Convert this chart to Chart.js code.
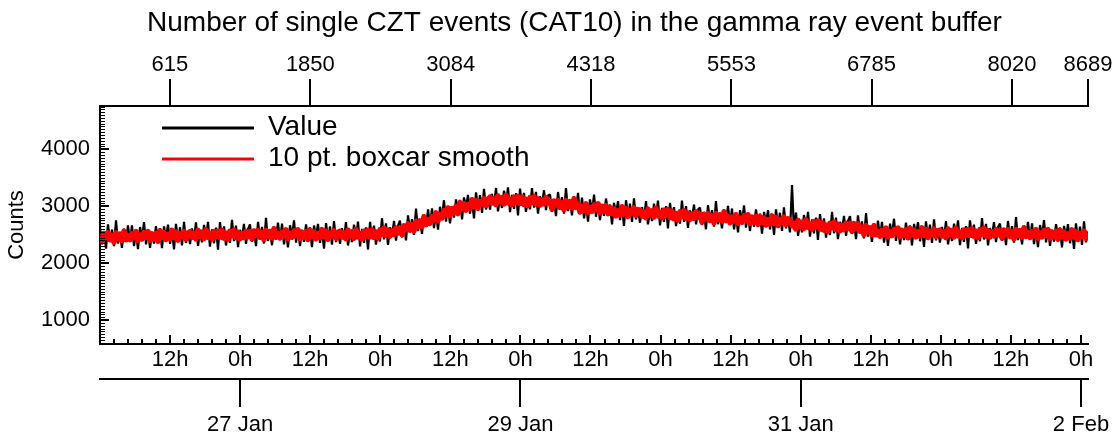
<!DOCTYPE html>
<html>
<head>
<meta charset="utf-8">
<title>CZT single events</title>
<script src="https://cdn.jsdelivr.net/npm/chart.js@4.4.1/dist/chart.umd.min.js"></script>
<style>
  html, body { margin: 0; padding: 0; background: #fff; }
  canvas { display: block; }
</style>
</head>
<body>
<canvas id="myChart" width="1120" height="439"></canvas>
<script>
// top axis: sample number
const lastSample = 8689;
const sampleTicks = [615, 1850, 3084, 4318, 5553, 6785, 8020, 8689];

// bottom axes: hours counted from 26 Jan 0h
const hourMin = 0;
const hourMax = 169.2;
const hourTicks = [12, 24, 36, 48, 60, 72, 84, 96, 108, 120, 132, 144, 156, 168];
const dateTicks = [24, 72, 120, 168];
const dateLabels = ['27 Jan', '29 Jan', '31 Jan', '2 Feb'];

// left axis
const countMin = 580;
const countMax = 4760;
const countTicks = [1000, 2000, 3000, 4000];

const seriesNames = ['Value', '10 pt. boxcar smooth'];

// values (evenly spread over the samples)
const valueCounts = [
  2635,2330,2545,2255,2680,2400,2590,2300,2750,2345,2505,2270,2605,2375,2665,
  2375,2665,2300,2550,2245,2635,2430,2720,2330,2590,2270,2535,2345,2650,2400,
  2615,2265,2645,2455,2675,2340,2570,2240,2690,2400,2630,2310,2725,2355,2545,
  2335,2610,2410,2715,2305,2540,2365,2670,2435,2725,2290,2595,2350,2625,2235,
  2720,2415,2645,2310,2560,2355,2760,2385,2660,2280,2585,2440,2690,2340,2600,
  2680,2375,2590,2300,2725,2445,2635,2345,2795,2390,2550,2315,2650,2420,2710,
  2405,2695,2330,2580,2275,2665,2460,2750,2360,2620,2300,2565,2375,2680,2430,
  2630,2280,2660,2470,2690,2355,2585,2255,2705,2415,2645,2325,2740,2370,2560,
  2340,2615,2415,2720,2310,2545,2370,2675,2440,2730,2295,2600,2355,2630,2240,
  2725,2424,2658,2327,2581,2380,2789,2418,2697,2321,2630,2489,2743,2397,2660,
  2745,2452,2679,2401,2839,2571,2773,2495,2957,2564,2736,2514,2861,2643,2945,
  2660,2964,2614,2878,2587,2991,2801,3105,2729,3004,2698,2977,2801,3121,2885,
  3110,2767,3154,2971,3199,2871,3108,2785,3242,2959,3196,2884,3306,2943,3140,
  2940,3215,3015,3320,2910,3145,2970,3275,3040,3330,2895,3200,2955,3230,2840,
  3310,3005,3235,2900,3150,2945,3320,2975,3250,2870,3175,3030,3280,2930,3190,
  3205,2900,3115,2825,3250,2970,3160,2870,3320,2915,3075,2840,3175,2945,3235,
  2860,3150,2785,3035,2730,3120,2915,3205,2815,3075,2755,3020,2830,3135,2885,
  3030,2680,3060,2870,3090,2755,2985,2655,3105,2815,3045,2725,3140,2770,2960,
  2710,2985,2785,3090,2680,2915,2740,3045,2810,3100,2665,2970,2725,3000,2610,
  3060,2755,2985,2650,2900,2695,3100,2725,3000,2620,2925,2780,3030,2680,2940,
  2975,2670,2885,2595,3020,2740,2930,2640,3090,2685,2845,2610,2945,2715,3005,
  2670,2960,2595,2845,2540,2930,2725,3015,2625,2885,2565,2830,2640,2945,2695,
  2870,2520,2900,2710,2930,2595,2825,2495,2945,2655,2885,2565,2980,2610,2800,
  2540,3370,2585,2890,2480,2715,2540,2845,2610,2900,2465,2770,2525,2800,2410,
  2860,2555,2785,2450,2700,2495,2900,2525,2800,2420,2725,2580,2830,2480,2740,
  2825,2512,2719,2421,2839,2551,2733,2435,2877,2464,2616,2373,2701,2463,2745,
  2435,2725,2360,2610,2305,2695,2490,2780,2390,2650,2330,2595,2405,2710,2460,
  2660,2310,2690,2500,2720,2385,2615,2285,2735,2445,2675,2355,2770,2400,2590,
  2360,2635,2435,2740,2330,2565,2390,2695,2460,2750,2315,2620,2375,2650,2260,
  2750,2445,2675,2340,2590,2385,2790,2415,2690,2310,2615,2470,2720,2370,2630,
  2695,2390,2605,2315,2740,2460,2650,2360,2810,2405,2565,2330,2665,2435,2725,
  2410,2700,2335,2585,2280,2670,2465,2755,2365,2625,2305,2570,2380,2685,2435,
  2625,2275,2655,2465,2685,2350,2580,2250,2700,2410,2640,2320,2735,2365,2555
];

const smoothCounts = [
  2510,2380,2520,2450,2530,2410,2490,2370,2530,2430,2510,2400,2560,2410,2480,
  2415,2515,2445,2555,2405,2495,2425,2535,2455,2555,2405,2515,2425,2525,2385,
  2565,2455,2535,2415,2505,2435,2575,2445,2545,2405,2515,2465,2555,2425,2525,
  2555,2455,2525,2425,2575,2475,2545,2435,2585,2455,2515,2425,2555,2465,2565,
  2460,2570,2440,2530,2420,2560,2480,2580,2450,2540,2430,2520,2450,2560,2470,
  2555,2425,2565,2495,2575,2455,2535,2415,2575,2475,2555,2445,2605,2455,2525,
  2445,2545,2475,2585,2435,2525,2455,2565,2485,2585,2435,2545,2455,2555,2415,
  2580,2470,2550,2430,2520,2450,2590,2460,2560,2420,2530,2480,2570,2440,2540,
  2560,2460,2530,2430,2580,2480,2550,2440,2590,2460,2520,2430,2560,2470,2570,
  2465,2579,2453,2547,2441,2585,2509,2613,2487,2581,2475,2569,2503,2617,2530,
  2620,2502,2654,2596,2689,2581,2673,2565,2737,2649,2741,2644,2816,2678,2760,
  2700,2814,2759,2883,2747,2851,2796,2920,2854,2969,2833,2957,2881,2996,2870,
  3060,2957,3044,2931,3029,2966,3113,2990,3097,2964,3081,3039,3136,3013,3120,
  3160,3060,3130,3030,3180,3080,3150,3040,3190,3060,3120,3030,3160,3070,3170,
  3050,3160,3030,3120,3010,3150,3070,3170,3040,3130,3020,3110,3040,3150,3060,
  3080,2950,3090,3020,3100,2980,3060,2940,3100,3000,3080,2970,3130,2980,3050,
  2900,3000,2930,3040,2890,2980,2910,3020,2940,3040,2890,3000,2910,3010,2870,
  2980,2870,2950,2830,2920,2850,2990,2860,2960,2820,2930,2880,2970,2840,2940,
  2930,2830,2900,2800,2950,2850,2920,2810,2960,2830,2890,2800,2930,2840,2940,
  2800,2910,2780,2870,2760,2900,2820,2920,2790,2880,2770,2860,2790,2900,2810,
  2850,2720,2860,2790,2870,2750,2830,2710,2870,2770,2850,2740,2900,2750,2820,
  2710,2810,2740,2850,2700,2790,2720,2830,2750,2850,2700,2810,2720,2820,2680,
  2820,2710,2790,2670,2760,2690,2830,2700,2800,2660,2770,2720,2810,2680,2780,
  2760,2660,2700,2600,2750,2650,2720,2610,2760,2630,2690,2600,2730,2640,2740,
  2600,2710,2580,2670,2560,2700,2620,2720,2590,2680,2570,2660,2590,2700,2610,
  2700,2562,2694,2616,2689,2561,2633,2505,2657,2549,2621,2503,2656,2498,2560,
  2475,2575,2505,2615,2465,2555,2485,2595,2515,2615,2465,2575,2485,2585,2445,
  2610,2500,2580,2460,2550,2480,2620,2490,2590,2450,2560,2510,2600,2470,2570,
  2580,2480,2550,2450,2600,2500,2570,2460,2610,2480,2540,2450,2580,2490,2590,
  2490,2600,2470,2560,2450,2590,2510,2610,2480,2570,2460,2550,2480,2590,2500,
  2570,2440,2580,2510,2590,2470,2550,2430,2590,2490,2570,2460,2620,2470,2540,
  2450,2550,2480,2590,2440,2530,2460,2570,2490,2590,2440,2550,2460,2560,2420,
  2575,2465,2545,2425,2515,2445,2585,2455,2555,2415,2525,2475,2565,2435,2535
];

function toPoints(arr) {
  // spread the values evenly over sample numbers 0..lastSample
  return arr.map((v, k) => ({ x: Math.round(k * lastSample / (arr.length - 1)), y: v }));
}

Chart.defaults.font.family = '"Liberation Sans", Arial, Helvetica, sans-serif';
Chart.defaults.color = '#000';

// small ticks drawn on the inside of the left and bottom axes
const insideTicks = {
  id: 'insideTicks',
  afterDraw(chart) {
    const ctx = chart.ctx;
    const area = chart.chartArea;
    const ys = chart.scales.y;
    const xs = chart.scales.x;
    ctx.save();
    ctx.strokeStyle = '#000';
    // left axis, minor every 50 counts
    ctx.lineWidth = 1;
    ctx.beginPath();
    for (let v = 600; v <= countMax; v += 50) {
      if (v % 1000 === 0) continue;
      const py = Math.round(ys.getPixelForValue(v)) + 0.5;
      ctx.moveTo(area.left, py);
      ctx.lineTo(area.left + 5, py);
    }
    ctx.stroke();
    ctx.lineWidth = 2;
    ctx.beginPath();
    countTicks.forEach(v => {
      const py = Math.round(ys.getPixelForValue(v));
      ctx.moveTo(area.left, py);
      ctx.lineTo(area.left + 9, py);
    });
    // bottom axis, minor every 2.4 h
    for (let h = 2.4; h <= hourMax; h += 2.4) {
      const px = Math.round(xs.getPixelForValue(h));
      const major = Math.abs(h / 12 - Math.round(h / 12)) < 0.01;
      ctx.moveTo(px, area.bottom);
      ctx.lineTo(px, area.bottom - (major ? 9 : 5));
    }
    ctx.stroke();
    ctx.restore();
  }
};

// legend inside the plot, line + text
const lineLegend = {
  id: 'lineLegend',
  afterDraw(chart) {
    const ctx = chart.ctx;
    ctx.save();
    ctx.font = '28px "Liberation Sans", Arial, sans-serif';
    ctx.textBaseline = 'alphabetic';
    ctx.fillStyle = '#000';
    chart.data.datasets.forEach((ds, i) => {
      const ly = 128 + i * 31;
      ctx.strokeStyle = ds.borderColor;
      ctx.lineWidth = 3;
      ctx.beginPath();
      ctx.moveTo(162, ly);
      ctx.lineTo(254, ly);
      ctx.stroke();
      ctx.fillText(ds.label, 268, ly + 7);
    });
    ctx.restore();
  }
};

// the title sits a little right of the canvas centre
const titleShift = {
  id: 'titleShift',
  afterLayout(chart) {
    if (chart.titleBlock) {
      chart.titleBlock.left = 61;
      chart.titleBlock.right = 1088;
    }
  }
};

const ctx = document.getElementById('myChart');
const myChart = new Chart(ctx, {
  type: 'line',
  data: {
    datasets: [
      {
        label: seriesNames[0],
        data: toPoints(valueCounts),
        xAxisID: 'xTop',
        yAxisID: 'y',
        borderColor: '#000000',
        borderWidth: 2.2,
        borderJoinStyle: 'bevel',
        pointRadius: 0,
        tension: 0,
        order: 2
      },
      {
        label: seriesNames[1],
        data: toPoints(smoothCounts),
        xAxisID: 'xTop',
        yAxisID: 'y',
        borderColor: '#ff0000',
        borderWidth: 5.5,
        borderJoinStyle: 'round',
        pointRadius: 0,
        tension: 0,
        order: 1
      }
    ]
  },
  options: {
    responsive: false,
    animation: false,
    devicePixelRatio: 1,
    layout: { padding: { left: 0, right: 32, top: 0, bottom: 0 } },
    plugins: {
      legend: { display: false },
      tooltip: { enabled: false },
      title: {
        display: true,
        text: 'Number of single CZT events (CAT10) in the gamma ray event buffer',
        color: '#000',
        font: { size: 28, weight: 'normal', lineHeight: 1.2 },
        padding: { top: 6, bottom: 4 }
      }
    },
    scales: {
      xTop: {
        type: 'linear',
        position: 'top',
        min: 0,
        max: lastSample,
        afterBuildTicks: (s) => { s.ticks = sampleTicks.map(v => ({ value: v })); },
        afterFit: (s) => { s.height = 106 - 43.6; },
        ticks: { font: { size: 22 }, padding: 1, maxRotation: 0, callback: (v) => String(v) },
        grid: { drawOnChartArea: false, drawTicks: true, tickLength: 27, lineWidth: 2, color: '#000' },
        border: { display: true, width: 2, color: '#000' }
      },
      x: {
        type: 'linear',
        position: 'bottom',
        weight: 0,
        min: hourMin,
        max: hourMax,
        afterBuildTicks: (s) => { s.ticks = hourTicks.map(v => ({ value: v })); },
        afterFit: (s) => { s.height = 35; },
        ticks: { font: { size: 22 }, padding: 3, maxRotation: 0, callback: (v) => (v % 24 === 0 ? '0h' : '12h') },
        grid: { display: false, drawTicks: false },
        border: { display: true, width: 2, color: '#000' }
      },
      xDate: {
        type: 'linear',
        position: 'bottom',
        weight: 1,
        min: hourMin,
        max: hourMax,
        afterBuildTicks: (s) => { s.ticks = dateTicks.map(v => ({ value: v })); },
        afterFit: (s) => { s.height = 60; },
        ticks: { font: { size: 22 }, padding: 5, maxRotation: 0, callback: (v) => dateLabels[dateTicks.indexOf(v)] },
        grid: { drawOnChartArea: false, drawTicks: true, tickLength: 28, lineWidth: 2, color: '#000' },
        border: { display: true, width: 2, color: '#000' }
      },
      y: {
        type: 'linear',
        position: 'left',
        min: countMin,
        max: countMax,
        afterBuildTicks: (s) => { s.ticks = countTicks.map(v => ({ value: v })); },
        afterFit: (s) => { s.width = 100; },
        ticks: { font: { size: 22 }, padding: 10, callback: (v) => String(v) },
        grid: { display: false, drawTicks: false },
        border: { display: true, width: 2, color: '#000' },
        title: {
          display: true,
          text: 'Counts',
          font: { size: 22 },
          padding: { top: 4, bottom: 0 }
        }
      }
    }
  },
  plugins: [insideTicks, lineLegend, titleShift]
});
</script>
</body>
</html>
